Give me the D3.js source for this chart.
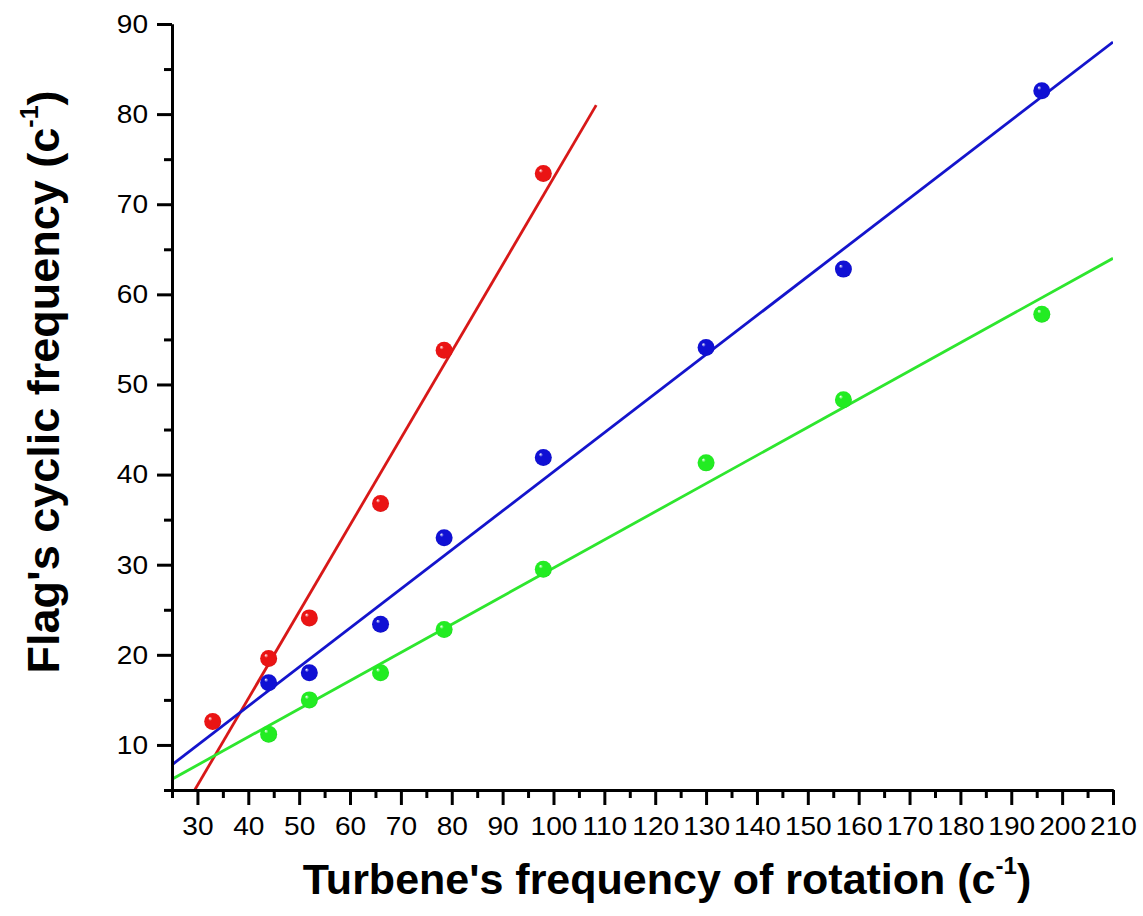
<!DOCTYPE html>
<html>
<head>
<meta charset="utf-8">
<script src="https://cdn.jsdelivr.net/npm/d3@7"></script>
<style>
  body { margin: 0; background: #fff; }
  svg { display: block; font-family: "Liberation Sans", Arial, sans-serif; }
</style>
</head>
<body>
<svg id="chart" width="1143" height="916"></svg>
<script>
"use strict";

// turbine rotation frequency (x) for each sample
var redX   = [33, 44, 52, 66, 78.5, 98],
    redY   = [12.6, 19.6, 24.1, 36.8, 53.8, 73.4],
    blueX  = [44, 52, 66, 78.5, 98, 130, 157, 196],
    blueY  = [16.9, 18, 23.4, 33.0, 41.9, 54.1, 62.8, 82.6],
    greenX = [44, 52, 66, 78.5, 98, 130, 157, 196],
    greenY = [11.2, 15.0, 18.0, 22.8, 29.5, 41.3, 48.3, 57.8];

// fitted lines, endpoints
var redFit   = [[25, 0.7], [108.4, 81.0]],
    blueFit  = [[25, 7.8], [210, 88.0]],
    greenFit = [[25, 6.2], [210, 64.0]];

var xTicks = d3.range(30, 211, 10),
    yTicks = d3.range(10, 91, 10);

var series = [
    {x: redX, y: redY, fit: redFit, line: "#d81818", fill: "#ea1414", id: "r"},
    {x: blueX, y: blueY, fit: blueFit, line: "#1414cc", fill: "#1010d4", id: "b"},
    {x: greenX, y: greenY, fit: greenFit, line: "#2ee62e", fill: "#22ec22", id: "g"}
];

var plot = {left: 172, right: 1113, top: 24, bottom: 790};

var svg = d3.select("#chart");

var x = d3.scaleLinear().domain([25, 210]).range([plot.left, plot.right]),
    y = d3.scaleLinear().domain([5, 90]).range([plot.bottom, plot.top]);

var defs = svg.append("defs");
defs.append("clipPath").attr("id", "clip")
    .append("rect")
    .attr("x", plot.left).attr("y", plot.top)
    .attr("width", plot.right - plot.left)
    .attr("height", plot.bottom - plot.top);

series.forEach(function (s) {
    var g = defs.append("radialGradient")
        .attr("id", "ball" + s.id)
        .attr("cx", "0.5").attr("cy", "0.5").attr("r", "0.55")
        .attr("fx", "0.32").attr("fy", "0.3");
    g.append("stop").attr("offset", "0").attr("stop-color", "#ffffff");
    g.append("stop").attr("offset", "0.22").attr("stop-color", s.fill);
    g.append("stop").attr("offset", "0.85").attr("stop-color", s.fill);
    g.append("stop").attr("offset", "1").attr("stop-color", d3.color(s.fill).darker(0.6));
});

// fit lines
var lineGen = d3.line().x(function (d) { return x(d[0]); })
    .y(function (d) { return y(d[1]); });
svg.append("g").attr("clip-path", "url(#clip)")
    .selectAll("path").data(series).enter().append("path")
    .attr("d", function (s) { return lineGen(s.fit); })
    .attr("fill", "none")
    .attr("stroke", function (s) { return s.line; })
    .attr("stroke-width", 2.8);

// markers
series.forEach(function (s) {
    svg.append("g").selectAll("circle").data(s.x).enter().append("circle")
        .attr("cx", function (d) { return x(d); })
        .attr("cy", function (d, i) { return y(s.y[i]); })
        .attr("r", 8.5)
        .attr("fill", "url(#ball" + s.id + ")");
});

// axes
function styleAxis(g) {
    g.select(".domain").attr("stroke", "#000").attr("stroke-width", 3);
    g.selectAll(".tick line").attr("stroke", "#000").attr("stroke-width", 3);
    g.selectAll(".tick text").attr("fill", "#000").attr("font-size", 26);
}

var xMinor = d3.range(25, 211, 10),
    yMinor = d3.range(5, 91, 10);

svg.append("g").attr("transform", "translate(0," + plot.bottom + ")")
    .call(d3.axisBottom(x).tickValues(xMinor).tickSize(8).tickFormat("").tickSizeOuter(0))
    .call(styleAxis);
svg.append("g").attr("transform", "translate(0," + plot.bottom + ")")
    .call(d3.axisBottom(x).tickValues(xTicks).tickSize(15).tickPadding(12).tickSizeOuter(0))
    .call(styleAxis)
    .call(function (g) {
        //labels in the original are drawn a bit wide
        g.selectAll(".tick text").attr("dy", "0.71em")
            .attr("transform", "scale(1.08,1)");
    });

svg.append("g").attr("transform", "translate(" + plot.left + ",0)")
    .call(d3.axisLeft(y).tickValues(yMinor).tickSize(8).tickFormat("").tickSizeOuter(0))
    .call(styleAxis);
svg.append("g").attr("transform", "translate(" + plot.left + ",0)")
    .call(d3.axisLeft(y).tickValues(yTicks).tickSize(15).tickPadding(9).tickSizeOuter(0))
    .call(styleAxis)
    .call(function (g) {
        g.selectAll(".tick text").attr("x", 0)
            .attr("transform", "translate(-24,0) scale(1.08,1)");
    });

// axis titles
var xt = svg.append("text")
    .attr("x", 667)
    .attr("y", 894)
    .attr("text-anchor", "middle")
    .attr("font-size", 43)
    .attr("font-weight", "bold");
xt.append("tspan").text("Turbene's frequency of rotation (c");
xt.append("tspan").attr("font-size", 24).attr("dy", -20).text("-1");
xt.append("tspan").attr("dy", 20).text(")");

var yt = svg.append("text")
    .attr("transform", "translate(59,382) rotate(-90)")
    .attr("text-anchor", "middle")
    .attr("font-size", 45)
    .attr("font-weight", "bold");
yt.append("tspan").text("Flag's cyclic frequency (c");
yt.append("tspan").attr("font-size", 25).attr("dy", -21).text("-1");
yt.append("tspan").attr("dy", 21).text(")");
</script>
</body>
</html>
